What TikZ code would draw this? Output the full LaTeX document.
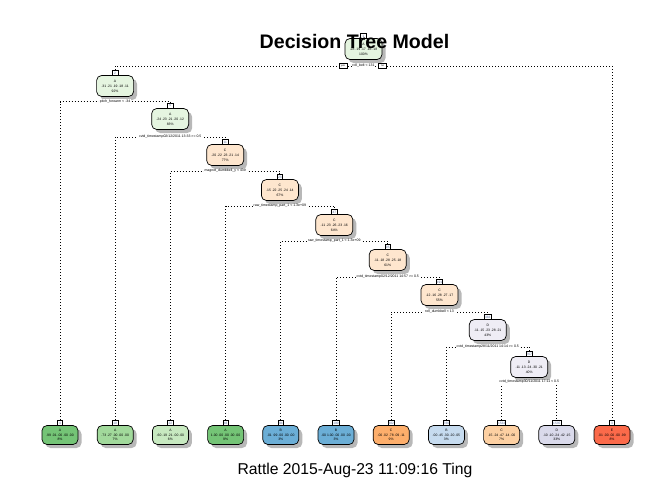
\documentclass[tikz,border=0pt]{standalone}
\usepackage{fontspec}
\setmainfont{Liberation Sans}
\usetikzlibrary{shadows}
\definecolor{iA}{HTML}{E5F5E0}
\definecolor{iC}{HTML}{FEE6CE}
\definecolor{iD}{HTML}{EFEDF5}
\definecolor{gA1}{HTML}{74C476}
\definecolor{gA2}{HTML}{A1D99B}
\definecolor{gA3}{HTML}{C7E9C0}
\definecolor{bB1}{HTML}{6BAED6}
\definecolor{bB3}{HTML}{C6DBEF}
\definecolor{oC1}{HTML}{FDAE6B}
\definecolor{oC2}{HTML}{FDD0A2}
\definecolor{pD2}{HTML}{DADAEB}
\definecolor{rE1}{HTML}{FB6A4A}
\definecolor{tagtxt}{HTML}{5A6E9C}
\tikzset{
  tn/.style={draw, line width=0.7pt, rounded corners=5pt, minimum width=37pt,
    minimum height=21pt, inner sep=0pt, align=center,
    font=\fontsize{3.4}{5}\selectfont,
    drop shadow={shadow xshift=3.5pt, shadow yshift=-3.5pt, fill=black, opacity=0.28}},
  lf/.style={tn, minimum width=36pt, minimum height=19pt, font=\fontsize{3.4}{4.8}\selectfont},
  tagbox/.style={draw, fill=white, line width=0.6pt, inner sep=0.6pt,
    minimum height=5.5pt, minimum width=5.5pt, text=tagtxt,
    font=\fontsize{3.2}{3.2}\selectfont, anchor=south, yshift=-0.8pt},
  conn/.style={line width=0.9pt, dash pattern=on 0.9pt off 2.1pt},
  slab/.style={fill=white, inner sep=0.8pt, font=\fontsize{3.5}{3.5}\selectfont},
  ynbox/.style={draw, fill=white, line width=0.6pt, inner sep=0.4pt,
    minimum width=8pt, minimum height=4.5pt, font=\fontsize{2.6}{2.6}\selectfont},
}
\begin{document}
\begin{tikzpicture}[x=1pt,y=-1pt]
\useasboundingbox (0,0) rectangle (672,480);
\fill[white] (0,0) rectangle (672,480);

% internal nodes
\node[tn, fill=iA] (n1)  at (363.5,49)  {A\\.28 .19 .17 .16 .18\\100\%};
\node[tn, fill=iA] (n2)  at (115.1,86)  {A\\.31 .21 .19 .18 .11\\92\%};
\node[tn, fill=iA] (n3)  at (170.2,119) {A\\.24 .23 .21 .20 .12\\83\%};
\node[tn, fill=iC] (n4)  at (225.2,155) {C\\.20 .22 .23 .21 .14\\77\%};
\node[tn, fill=iC] (n5)  at (279.9,190) {C\\.15 .22 .25 .24 .14\\67\%};
\node[tn, fill=iC] (n6)  at (334.3,225) {C\\.11 .23 .26 .23 .16\\64\%};
\node[tn, fill=iC] (n7)  at (387.75,260) {C\\.11 .18 .28 .25 .18\\61\%};
\node[tn, fill=iC] (n8)  at (439.5,295) {C\\.12 .16 .28 .27 .17\\55\%};
\node[tn, fill=iD] (n9)  at (487.8,330) {D\\.11 .15 .23 .28 .21\\43\%};
\node[tn, fill=iD] (n10) at (529.2,367) {D\\.11 .13 .24 .30 .21\\40\%};

% leaves
\node[lf, fill=gA1] (l4)    at (60,435)    {A\\.99 .01 .00 .00 .00\\8\%};
\node[lf, fill=gA2] (l10)   at (115.2,435) {A\\.73 .27 .00 .00 .00\\7\%};
\node[lf, fill=gA3] (l22)   at (170.4,435) {A\\.60 .19 .21 .00 .00\\6\%};
\node[lf, fill=gA1] (l46)   at (225.6,435) {A\\1.00 .00 .00 .00 .00\\9\%};
\node[lf, fill=bB1] (l94)   at (280.8,435) {B\\.01 .99 .00 .00 .00\\3\%};
\node[lf, fill=bB1] (l190)  at (336,435)   {B\\.00 1.00 .00 .00 .00\\3\%};
\node[lf, fill=oC1] (l382)  at (391.2,435) {C\\.00 .02 .78 .09 .11\\9\%};
\node[lf, fill=bB3] (l766)  at (446.4,435) {B\\.00 .45 .30 .20 .05\\3\%};
\node[lf, fill=oC2] (l1534) at (501.6,435) {C\\.15 .24 .47 .14 .00\\7\%};
\node[lf, fill=pD2] (l1535) at (556.8,435) {D\\.10 .10 .24 .42 .15\\33\%};
\node[lf, fill=rE1] (l3)    at (612,435)   {E\\.01 .00 .00 .00 .99\\8\%};

% tags
\node[tagbox] (t1)    at (n1.north)  {1};
\node[tagbox] (t2)    at (n2.north)  {2};
\node[tagbox] (t5)    at (n3.north)  {5};
\node[tagbox] (t11)   at (n4.north)  {11};
\node[tagbox] (t23)   at (n5.north)  {23};
\node[tagbox] (t47)   at (n6.north)  {47};
\node[tagbox] (t95)   at (n7.north)  {95};
\node[tagbox] (t191)  at (n8.north)  {191};
\node[tagbox] (t383)  at (n9.north)  {383};
\node[tagbox] (t767)  at (n10.north) {767};
\node[tagbox] (t4)    at (l4.north)    {4};
\node[tagbox] (t10)   at (l10.north)   {10};
\node[tagbox] (t22)   at (l22.north)   {22};
\node[tagbox] (t46)   at (l46.north)   {46};
\node[tagbox] (t94)   at (l94.north)   {94};
\node[tagbox] (t190)  at (l190.north)  {190};
\node[tagbox] (t382)  at (l382.north)  {382};
\node[tagbox] (t766)  at (l766.north)  {766};
\node[tagbox] (t1534) at (l1534.north) {1534};
\node[tagbox] (t1535) at (l1535.north) {1535};
\node[tagbox] (t3)    at (l3.north)    {3};

% split points
\coordinate (s1)  at (363.5,66);
\coordinate (s2)  at (115.1,101.5);
\coordinate (s3)  at (170.2,137);
\coordinate (s4)  at (225.2,171);
\coordinate (s5)  at (279.9,206);
\coordinate (s6)  at (334.3,241);
\coordinate (s7)  at (387.75,277);
\coordinate (s8)  at (439.5,312);
\coordinate (s9)  at (487.8,347);
\coordinate (s10) at (529.2,382);

% connectors
\draw[conn] (t2.north)    |- (s1)  -| (t3.north);
\draw[conn] (t4.north)    |- (s2)  -| (t5.north);
\draw[conn] (t10.north)   |- (s3)  -| (t11.north);
\draw[conn] (t22.north)   |- (s4)  -| (t23.north);
\draw[conn] (t46.north)   |- (s5)  -| (t47.north);
\draw[conn] (t94.north)   |- (s6)  -| (t95.north);
\draw[conn] (t190.north)  |- (s7)  -| (t191.north);
\draw[conn] (t382.north)  |- (s8)  -| (t383.north);
\draw[conn] (t766.north)  |- (s9)  -| (t767.north);
\draw[conn] (t1534.north) |- (s10) -| (t1535.north);

% split labels
\node[slab] (q1)  at (s1)  {roll\_belt < 131};
\node[ynbox] (yes) at (343,66) {yes};
\node[ynbox] (no)  at (382.5,66) {no};
\node[slab] (q2)  at (s2)  {pitch\_forearm < -34};
\node[slab] (q3)  at (s3)  {cvtd\_timestamp02/12/2011 13:33 >= 0.5};
\node[slab] (q4)  at (s4)  {magnet\_dumbbell\_y < 439};
\node[slab] (q5)  at (s5)  {raw\_timestamp\_part\_1 < 1.3e+09};
\node[slab] (q6)  at (s6)  {raw\_timestamp\_part\_1 < 1.3e+09};
\node[slab] (q7)  at (s7)  {cvtd\_timestamp02/12/2011 14:57 >= 0.5};
\node[slab] (q8)  at (s8)  {roll\_dumbbell < 13};
\node[slab] (q9)  at (s9)  {cvtd\_timestamp28/11/2011 14:14 >= 0.5};
\node[slab] (q10) at (s10) {cvtd\_timestamp30/11/2011 17:11 < 0.5};

% title and footer
\node[anchor=base, font=\fontsize{19.6}{22}\selectfont\bfseries, inner sep=0] (title) at (354.5,48) {Decision Tree Model};
\node[anchor=base, font=\fontsize{15.7}{18}\selectfont, inner sep=0] (foot) at (355,474) {Rattle 2015-Aug-23 11:09:16 Ting};
\end{tikzpicture}
\end{document}
